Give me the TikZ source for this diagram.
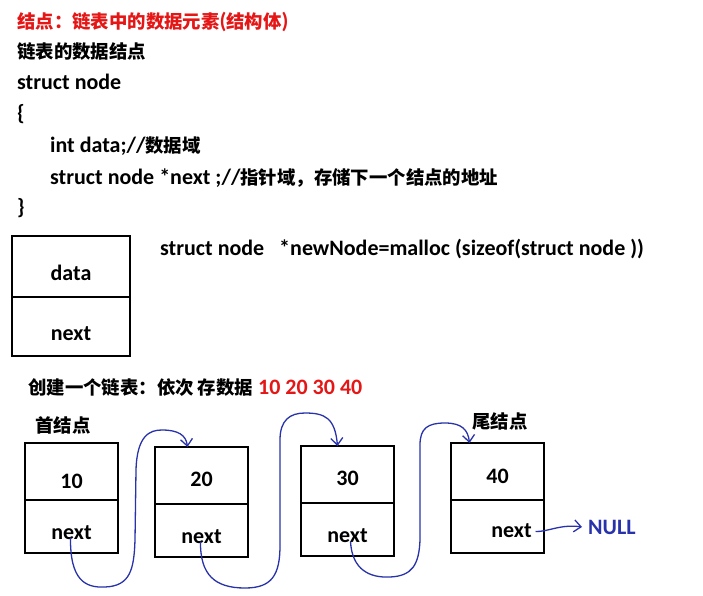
\documentclass[tikz,border=0pt]{standalone}
\usepackage{fontspec}
\setmainfont{Carlito}
\newfontfamily\zhfont{Noto Sans CJK SC}
\usepackage{tikz}
\usetikzlibrary{arrows.meta,positioning}

\definecolor{titlered}{RGB}{228,22,22}
\definecolor{linkblue}{RGB}{40,50,170}
\newcommand\zh[1]{{\zhfont\fontsize{18.4}{21}\selectfont #1}}
\newcommand\txtfont{\fontsize{22}{26}\selectfont\bfseries}

\begin{document}
\begin{tikzpicture}[x=1pt,y=-1pt,
  txt/.style={anchor=base west,inner sep=0pt,font=\txtfont},
  cell/.style={draw,line width=1.4pt,minimum width=93pt,inner sep=0pt,outer sep=0pt,font=\txtfont,text depth=0pt},
  top/.style={cell,minimum height=57pt,text height=22pt},
  bot/.style={cell,minimum height=53pt,text height=25pt},
  link/.style={linkblue,line width=1.3pt,-{Straight Barb[length=7pt,width=12pt]}}]
\useasboundingbox (0,0) rectangle (703,596);

% struct definition
\node[txt,titlered] (title) at (17,29) {\zh{结点：链表中的数据元素}(\zh{结构体})};
\node[txt] (sub) at (17,59) {\zh{链表的数据结点}};
\node[txt] (l1) at (17,90) {struct node};
\node[txt] (l2) at (17,121) {\{};
\node[txt] (l3) at (50,153) {int data;//\zh{数据域}};
\node[txt] (l4) at (50,184) {struct node *next ;//\zh{指针域，存储下一个结点的地址}};
\node[txt] (l5) at (17,214) {\}};

% a single node
\node[cell,minimum width=118pt,minimum height=61pt,text height=27pt,anchor=north west] (nd) at (12,236) {data};
\node[cell,minimum width=118pt,minimum height=59pt,text height=28pt,below=0pt of nd] (nn) {next};
\node[txt] (malloc) at (160,255) {struct node\ \ \ *newNode=malloc (sizeof(struct node ))};

% the list
\node[txt] (make) at (28,394) {\zh{创建一个链表：依次 存数据} \textcolor{titlered}{10 20 30 40}};
\node[txt] (head) at (35,432) {\zh{首结点}};
\node[txt] (tail) at (472,428) {\zh{尾结点}};

\node[top,text height=33pt,anchor=north west] (n1d) at (25,443) {10};
\node[bot,below=0pt of n1d] (n1n) {next};
\node[top,anchor=north west] (n2d) at (155,447) {20};
\node[bot,below=0pt of n2d] (n2n) {next};
\node[top,anchor=north west] (n3d) at (301,446) {30};
\node[bot,below=0pt of n3d] (n3n) {next};
\node[top,text height=23pt,anchor=north west] (n4d) at (451,443) {40};
\node[bot,text height=22pt,below=0pt of n4d] (n4n) {\hspace*{28pt}next};
\node[txt,linkblue] (null) at (588,534) {NULL};

\draw[link] ([xshift=-1pt,yshift=-11pt]n1n.center) .. controls (70,580) and (85,588) .. (105,587)
  .. controls (130,586) and (134,570) .. (135,540) -- (136,470)
  .. controls (137,435) and (150,430) .. (162,430)
  .. controls (178,430) and (186,435) .. ([xshift=-14pt]n2d.north);
\draw[link] ([xshift=-1pt,yshift=-11pt]n2n.center) .. controls (200,575) and (215,588) .. (245,588)
  .. controls (272,588) and (280,575) .. (280,545) -- (280,440)
  .. controls (280,420) and (290,413) .. (305,413)
  .. controls (325,413) and (335,418) .. ([xshift=-10pt]n3d.north);
\draw[link] ([xshift=3pt,yshift=-12pt]n3n.center) .. controls (352,570) and (370,578) .. (390,577)
  .. controls (412,576) and (419,565) .. (420,540) -- (420,445)
  .. controls (420,428) and (428,423) .. (445,423)
  .. controls (462,423) and (468,430) .. ([xshift=-28pt]n4d.north);
\draw[link] ([xshift=38pt,yshift=-5pt]n4n.center) .. controls (548,532) and (560,524) .. ([xshift=-6pt]null.west);
\end{tikzpicture}
\end{document}
